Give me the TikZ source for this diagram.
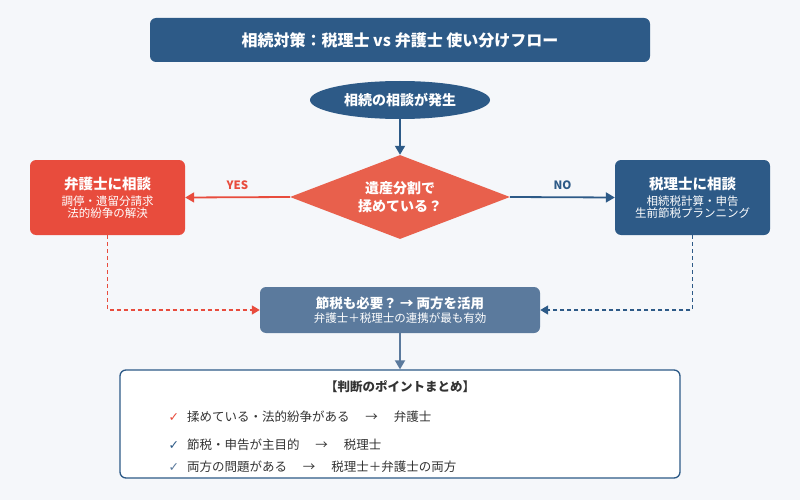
\documentclass[tikz,border=0pt]{standalone}
\usepackage{fontspec}
\setmainfont{Noto Sans CJK JP}
\newfontfamily\dvs{DejaVu Sans}
\usetikzlibrary{shapes.geometric,arrows.meta}
\definecolor{navy}{HTML}{2D5A87}
\definecolor{redc}{HTML}{E84C3D}
\definecolor{diam}{HTML}{E8604C}
\definecolor{slate}{HTML}{5B7A9D}
\definecolor{bg}{HTML}{F5F7FA}
\definecolor{txt}{HTML}{333333}
\tikzset{
  box/.style={rounded corners=6pt, text=white, align=center, inner sep=0pt},
  arr/.style={line width=1.8pt, -{Triangle[length=9pt,width=10pt]}},
  dasharr/.style={line width=1.5pt, dash pattern=on 4pt off 3pt, -{Triangle[length=8pt,width=9pt]}},
  item/.style={anchor=west, text=txt, font=\fontsize{12.5}{14}\selectfont}
}
\begin{document}
\begin{tikzpicture}[x=1pt,y=-1pt]
\useasboundingbox (0,0) rectangle (800,500);
\fill[bg] (0,0) rectangle (800,500);
\node[box, fill=navy, minimum width=500pt, minimum height=44pt, font=\bfseries\fontsize{16}{18}\selectfont] (title) at (400,40) {相続対策：税理士 vs 弁護士 使い分けフロー};
\node[ellipse, fill=navy, text=white, minimum width=180pt, minimum height=38pt, inner sep=0pt, font=\bfseries\fontsize{14}{16}\selectfont] (start) at (400,100) {相続の相談が発生};
\node[diamond, fill=diam, text=white, minimum width=220pt, minimum height=84pt, aspect=2.6, inner sep=0pt, align=center, font=\bfseries\fontsize{14}{18}\selectfont] (dec) at (400,197) {遺産分割で\\揉めている？};
\node[box, fill=redc, minimum width=155pt, minimum height=75pt] (law) at (107.5,197.5) {{\bfseries\fontsize{14.5}{17}\selectfont 弁護士に相談}\\[4pt]{\fontsize{11.5}{16}\selectfont 調停・遺留分請求}\\{\fontsize{11.5}{16}\selectfont 法的紛争の解決}};
\node[box, fill=navy, minimum width=155pt, minimum height=75pt] (tax) at (692.5,197.5) {{\bfseries\fontsize{14.5}{17}\selectfont 税理士に相談}\\[4pt]{\fontsize{11.5}{16}\selectfont 相続税計算・申告}\\{\fontsize{11.5}{16}\selectfont 生前節税プランニング}};
\node[box, fill=slate, minimum width=280pt, minimum height=46pt] (both) at (400,310) {{\bfseries\fontsize{13.5}{16}\selectfont 節税も必要？ → 両方を活用}\\[2pt]{\fontsize{11.5}{13}\selectfont 弁護士＋税理士の連携が最も有効}};
\node[draw=navy, line width=1.3pt, fill=white, rounded corners=6pt, minimum width=560pt, minimum height=108pt] (sum) at (400,424) {};
\node[text=txt, font=\bfseries\fontsize{12.5}{14}\selectfont] (st) at (400,387) {【判断のポイントまとめ】};
\node[item] (i1) at (165,417) {{\dvs\color{redc}✓}\hspace{8pt}揉めている・法的紛争がある\hspace{16pt}→\hspace{16pt}弁護士};
\node[item] (i2) at (165,445) {{\dvs\color{navy}✓}\hspace{8pt}節税・申告が主目的\hspace{16pt}→\hspace{16pt}税理士};
\node[item] (i3) at (165,467) {{\dvs\color{slate}✓}\hspace{8pt}両方の問題がある\hspace{16pt}→\hspace{16pt}税理士＋弁護士の両方};
\draw[arr, navy] (start) -- (dec);
\draw[arr, redc] (dec.west) -- node[above=3pt, font=\bfseries\fontsize{11.5}{12}\selectfont]{YES} (law.east);
\draw[arr, navy] (dec.east) -- node[above=3pt, font=\bfseries\fontsize{11.5}{12}\selectfont]{NO} (tax.west);
\draw[dasharr, redc] (law.south) |- (both.west);
\draw[dasharr, navy] (tax.south) |- (both.east);
\draw[arr, slate] (both) -- (sum);
\end{tikzpicture}
\end{document}
